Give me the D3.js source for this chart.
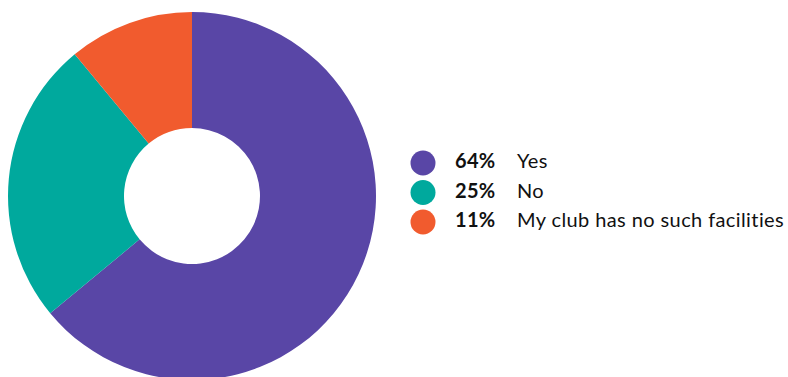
<!DOCTYPE html>
<html>
<head>
<meta charset="utf-8">
<script src="https://cdn.jsdelivr.net/npm/d3@7"></script>
<style>
  html, body { margin: 0; padding: 0; background: #fff; }
  svg { display: block; }
</style>
</head>
<body>
<svg id="chart" width="788" height="377"></svg>
<script>
// Survey answers
const categories = ["Yes", "No", "My club has no such facilities"];
const values = [64, 25, 11];
const colors = ["#5946A6", "#00A99D", "#F15B2E"];

const svg = d3.select("#chart");
const cx = 192, cy = 196, outerR = 184, innerR = 68;

const data = categories.map((c, i) => ({ label: c, value: values[i], color: colors[i] }));

const pie = d3.pie().value(d => d.value).sort(null);
const arc = d3.arc().innerRadius(innerR).outerRadius(outerR);

svg.append("g")
  .attr("transform", `translate(${cx},${cy})`)
  .selectAll("path")
  .data(pie(data))
  .join("path")
  .attr("d", arc)
  .attr("fill", d => d.data.color);

// Legend
const legend = svg.append("g").attr("transform", "translate(423,163)");
const row = legend.selectAll("g")
  .data(data)
  .join("g")
  .attr("transform", (d, i) => `translate(0,${i * 29.5})`);

row.append("circle")
  .attr("r", 12.5)
  .attr("fill", d => d.color);

row.append("text")
  .attr("x", 32)
  .attr("y", 5)
  .attr("font-family", "Lato, sans-serif")
  .attr("font-weight", 700)
  .attr("font-size", 20)
  .attr("letter-spacing", 0.3)
  .attr("fill", "#111")
  .text(d => d.value + "%");

row.append("text")
  .attr("x", 94)
  .attr("y", 5)
  .attr("font-family", "Lato, sans-serif")
  .attr("font-size", 20)
  .attr("letter-spacing", 0.4)
  .attr("fill", "#111")
  .text(d => d.label);
</script>
</body>
</html>
